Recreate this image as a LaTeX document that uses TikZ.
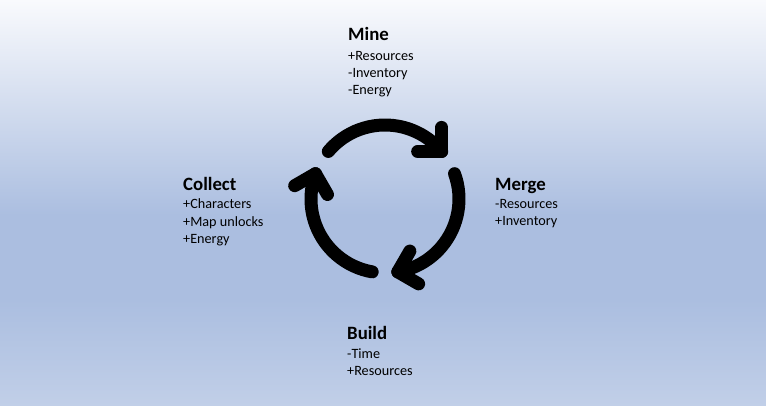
\documentclass[tikz,border=0pt]{standalone}
\usepackage{fontspec}
\setmainfont{Carlito}
\usetikzlibrary{calc}
\definecolor{bgtop}{RGB}{249,250,253}
\definecolor{bgmid}{RGB}{171,190,224}
\definecolor{bgbot}{RGB}{193,207,232}
\tikzset{
  title/.style={anchor=base west, inner sep=0pt, font=\fontsize{18.8}{20}\selectfont\bfseries},
  item/.style={anchor=base west, inner sep=0pt, font=\fontsize{14.2}{16}\selectfont},
  cyc/.style={line width=13pt, line cap=round, line join=round, black}
}
\begin{document}
\begin{tikzpicture}[x=1pt,y=1pt]
\useasboundingbox (0,0) rectangle (766,406);
\shade[top color=bgtop, bottom color=bgmid] (0,406) rectangle (766,191);
\fill[bgmid] (0,191.5) rectangle (766,106);
\shade[top color=bgmid, bottom color=bgbot] (0,106.5) rectangle (766,0);
\coordinate (c) at (385,207);
% arcs
\foreach \s/\e in {140/40, 20/-80, -100/-200}{
  \draw[cyc] ($(c)+(\s:74)$) arc (\s:\e:74);
  \coordinate (tip) at ($(c)+(\e:74)$);
  \draw[cyc] ($(tip)+(\e+50:24)$) -- (tip) -- ($(tip)+(\e+140:24)$);
}
% Mine
\node[title] (mine) at (348,365) {Mine};
\node[item] (mine1) at (348,345.5) {+Resources};
\node[item] (mine2) at (348,328.5) {-Inventory};
\node[item] (mine3) at (348,311.3) {-Energy};
% Collect
\node[title] (collect) at (183,215.5) {Collect};
\node[item] (col1) at (183,197) {+Characters};
\node[item] (col2) at (183,179.5) {+Map unlocks};
\node[item] (col3) at (183,162) {+Energy};
% Merge
\node[title] (merge) at (495,215.5) {Merge};
\node[item] (mer1) at (495,197) {-Resources};
\node[item] (mer2) at (495,180) {+Inventory};
% Build
\node[title] (build) at (347,66.5) {Build};
\node[item] (bui1) at (347,47.5) {-Time};
\node[item] (bui2) at (347,30) {+Resources};
\end{tikzpicture}
\end{document}
